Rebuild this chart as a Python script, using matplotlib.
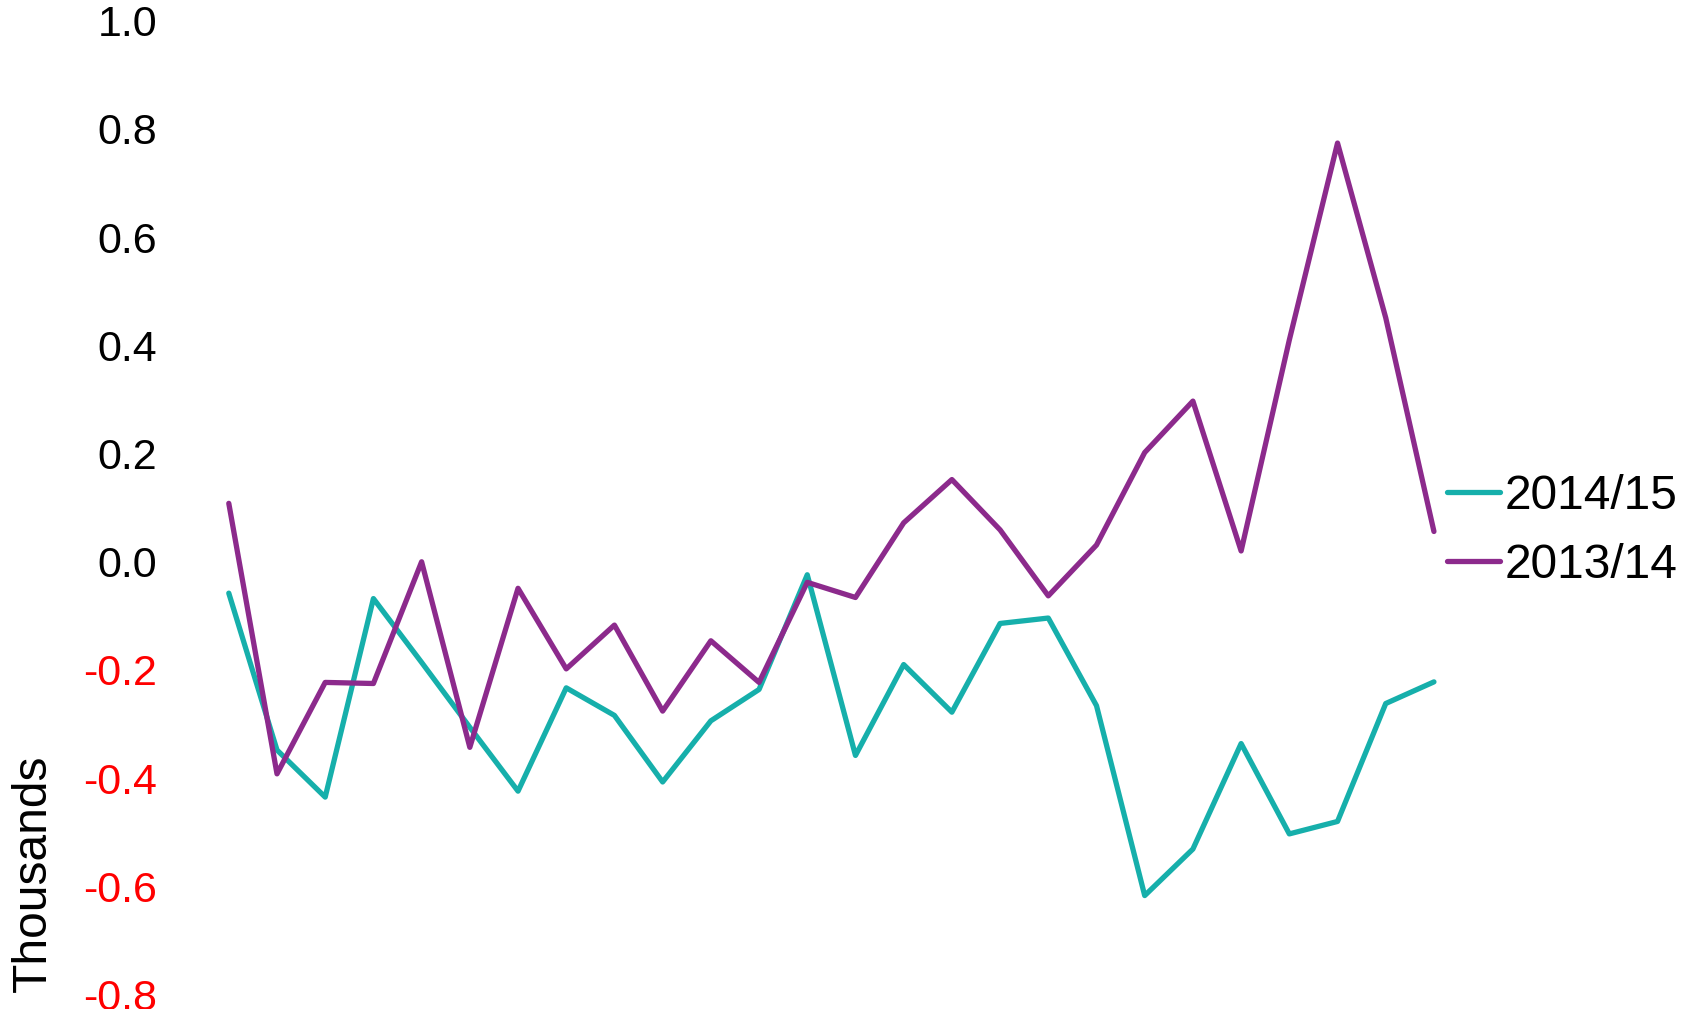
import matplotlib as mpl
mpl.use('Agg')
import matplotlib.pyplot as plt

plt.rcParams['font.family'] = ['Liberation Sans', 'DejaVu Sans']
plt.rcParams['axes.unicode_minus'] = False

# 26 periods, values in thousands
periods = list(range(26))
y2014_15 = [-0.058, -0.348, -0.435, -0.068, -0.186, -0.306, -0.424, -0.233, -0.284, -0.407,
            -0.294, -0.236, -0.024, -0.358, -0.190, -0.278, -0.114, -0.104, -0.266, -0.617,
            -0.531, -0.336, -0.503, -0.480, -0.262, -0.222]
y2013_14 = [0.108, -0.392, -0.223, -0.225, 0.000, -0.343, -0.049, -0.198, -0.117, -0.276,
            -0.146, -0.223, -0.038, -0.066, 0.072, 0.152, 0.059, -0.063, 0.031, 0.202,
            0.297, 0.020, 0.410, 0.774, 0.451, 0.056]
yticks = [1.0, 0.8, 0.6, 0.4, 0.2, 0.0, -0.2, -0.4, -0.6, -0.8]
ytick_labels = ['1.0', '0.8', '0.6', '0.4', '0.2', '0.0', '-0.2', '-0.4', '-0.6', '-0.8']

teal = '#16AFAB'
purple = '#8C2A8C'

fig = plt.figure(figsize=(16.86, 10.09), dpi=100)
ax = fig.add_axes([0.1357, 0.0143, 0.7148, 0.9651])

ax.plot(periods, y2014_15, color=teal, lw=3.8, solid_capstyle='round',
        clip_on=False, label='2014/15')
ax.plot(periods, y2013_14, color=purple, lw=3.8, solid_capstyle='round',
        clip_on=False, label='2013/14')

ax.set_xlim(0, 25)
ax.set_ylim(-0.8, 1.0)
ax.set_yticks(yticks)
ax.set_yticklabels(ytick_labels, fontsize=31)
for lab, v in zip(ax.get_yticklabels(), yticks):
    lab.set_color('red' if v < 0 else 'black')
ax.tick_params(axis='y', length=0, pad=51.5)
ax.set_xticks([])
for s in ax.spines.values():
    s.set_visible(False)

fig.text(0.0195, 0.0165, 'Thousands', rotation=90, fontsize=34.5, ha='center', va='bottom')

fig.legend(loc='center left', bbox_to_anchor=(0.8582, 0.474), frameon=False,
           fontsize=34.5, handlelength=1.1, handletextpad=0.1, labelspacing=0.5,
           borderpad=0, borderaxespad=0)

fig.savefig('out.png', dpi=100)
